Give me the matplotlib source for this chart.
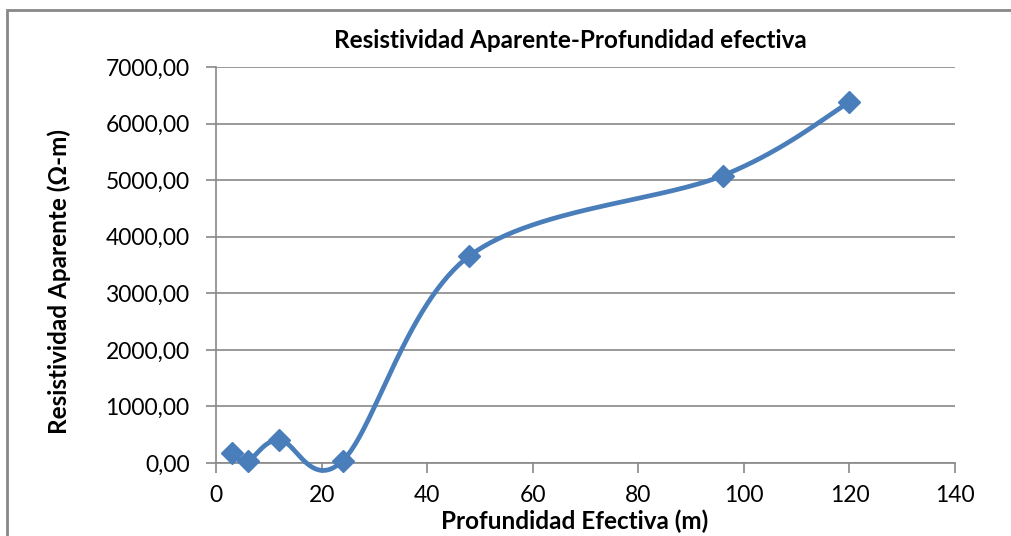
import numpy as np
import matplotlib
matplotlib.use("Agg")
import matplotlib.pyplot as plt
from matplotlib.patches import Rectangle

# Data
profundidad = [3, 6, 12, 24, 48, 96, 120]
resistividad = [180, 40, 410, 40, 3660, 5080, 6380]
x_ticks = [0, 20, 40, 60, 80, 100, 120, 140]
y_ticks = [0, 1000, 2000, 3000, 4000, 5000, 6000, 7000]
title = "Resistividad Aparente-Profundidad efectiva"
xlabel = "Profundidad Efectiva (m)"
ylabel = "Resistividad Aparente (Ω-m)"

W, H = 1011, 536
fig = plt.figure(figsize=(W / 100, H / 100), dpi=100)
plt.rcParams['font.family'] = ['Lato', 'DejaVu Sans']

# plot area in pixels
x0, x1 = 216, 955
y0, y1 = 463, 67
ax = fig.add_axes([x0 / W, 1 - y0 / H, (x1 - x0) / W, (y0 - y1) / H])
ax.set_xlim(0, 140)
ax.set_ylim(0, 7000)

# Excel-like smoothed line (Bezier, Catmull-Rom style) computed in pixel space
sx = (x1 - x0) / 140.0
sy = (y0 - y1) / 7000.0
P = np.column_stack([np.array(profundidad) * sx, np.array(resistividad) * sy])
n = len(P)
pts = []
t = np.linspace(0, 1, 60)
for i in range(n - 1):
    p0 = P[i - 1] if i > 0 else P[i]
    p1 = P[i]
    p2 = P[i + 1]
    p3 = P[i + 2] if i + 2 < n else P[i + 1]
    c1 = p1 + (p2 - p0) / 6.0
    c2 = p2 - (p3 - p1) / 6.0
    seg = ((1 - t)[:, None] ** 3 * p1 + 3 * ((1 - t) ** 2 * t)[:, None] * c1
           + 3 * ((1 - t) * t ** 2)[:, None] * c2 + (t ** 3)[:, None] * p2)
    pts.append(seg)
curve = np.vstack(pts)
ax.plot(curve[:, 0] / sx, curve[:, 1] / sy, color='#4a7ebb', lw=3.4,
        solid_capstyle='round', clip_on=False, zorder=3)
ax.plot(profundidad, resistividad, linestyle='none', marker='D', ms=11,
        color='#4a7ebb', clip_on=False, zorder=4)

ax.set_xticks(x_ticks)
ax.set_yticks(y_ticks)
ax.set_yticklabels([f"{v},00" for v in y_ticks])
ax.tick_params(axis='both', labelsize=16.5, colors='#888888', labelcolor='black',
               direction='out', length=7, width=1.2)
ax.tick_params(axis='y', pad=12)
ax.tick_params(axis='x', pad=9)
ax.grid(axis='y', color='#888888', lw=1.2)
ax.set_axisbelow(True)
for s in ['top', 'right']:
    ax.spines[s].set_visible(False)
for s in ['left', 'bottom']:
    ax.spines[s].set_color('#888888')
    ax.spines[s].set_linewidth(1.2)

fig.text(570 / W, 1 - 40 / H, title, ha='center', va='center',
         fontsize=17.5, fontweight='bold')
fig.text(575 / W, 1 - 521 / H, xlabel, ha='center', va='center',
         fontsize=17.5, fontweight='bold')
fig.text(59 / W, 1 - 282 / H, ylabel, ha='center', va='center',
         fontsize=17.5, fontweight='bold', rotation=90)

# chart border
fig.patches.append(Rectangle((7 / W, -0.1), 1.2, 1 - 9.5 / H + 0.1,
                             transform=fig.transFigure, fill=False,
                             edgecolor='#888888', lw=2))

fig.savefig("out.png", dpi=100)
